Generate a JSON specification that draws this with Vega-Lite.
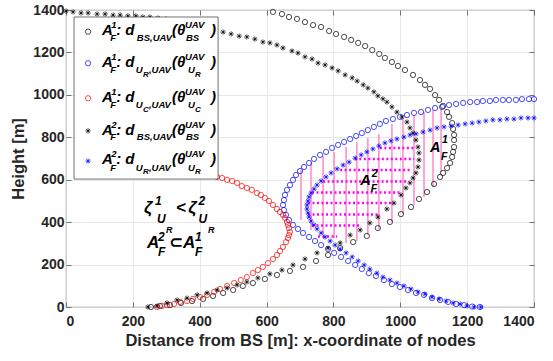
{
"$schema":"https://vega.github.io/schema/vega-lite/v6.json",
"width":468,"height":297,
"autosize":{"type":"none"},
"padding":{"left":66,"top":10,"right":19,"bottom":54},
"background":"white",
"config":{"view":{"stroke":"#555","strokeWidth":0.8},"font":"Liberation Sans"},
"datasets":{
"pink":[{"x":703,"y":410,"y2":646},{"x":733,"y":363,"y2":684},{"x":769,"y":339,"y2":712},{"x":802,"y":325,"y2":731},{"x":838,"y":302,"y2":754},{"x":870,"y":311,"y2":778},{"x":903,"y":339,"y2":797},{"x":936,"y":368,"y2":816},{"x":975,"y":401,"y2":863},{"x":1008,"y":438,"y2":891},{"x":1041,"y":481,"y2":905},{"x":1071,"y":519,"y2":919},{"x":1098,"y":566,"y2":929},{"x":1122,"y":636,"y2":938}],
"mag":[{"y":750,"x":939,"x2":1044},{"y":698,"x":864,"x2":1041},{"y":646,"x":820,"x2":1035},{"y":592,"x":769,"x2":1023},{"y":540,"x":736,"x2":999},{"y":490,"x":724,"x2":978},{"y":436,"x":724,"x2":939},{"y":384,"x":736,"x2":879},{"y":332,"x":754,"x2":811}],
"pts":[
{"s":"A1-BS","x":619,"y":1391},{"s":"A1-BS","x":646,"y":1381},{"s":"A1-BS","x":667,"y":1367},{"s":"A1-BS","x":691,"y":1358},{"s":"A1-BS","x":715,"y":1343},{"s":"A1-BS","x":739,"y":1329},{"s":"A1-BS","x":763,"y":1320},{"s":"A1-BS","x":787,"y":1301},{"s":"A1-BS","x":808,"y":1287},{"s":"A1-BS","x":832,"y":1273},{"s":"A1-BS","x":853,"y":1259},{"s":"A1-BS","x":874,"y":1245},{"s":"A1-BS","x":895,"y":1230},{"s":"A1-BS","x":916,"y":1211},{"s":"A1-BS","x":937,"y":1193},{"s":"A1-BS","x":954,"y":1174},{"s":"A1-BS","x":975,"y":1155},{"s":"A1-BS","x":993,"y":1136},{"s":"A1-BS","x":1014,"y":1117},{"s":"A1-BS","x":1038,"y":1094},{"s":"A1-BS","x":1059,"y":1070},{"s":"A1-BS","x":1074,"y":1047},{"s":"A1-BS","x":1089,"y":1028},{"s":"A1-BS","x":1104,"y":999},{"s":"A1-BS","x":1116,"y":976},{"s":"A1-BS","x":1128,"y":948},{"s":"A1-BS","x":1140,"y":919},{"s":"A1-BS","x":1146,"y":896},{"s":"A1-BS","x":1155,"y":867},{"s":"A1-BS","x":1158,"y":839},{"s":"A1-BS","x":1161,"y":811},{"s":"A1-BS","x":1161,"y":787},{"s":"A1-BS","x":1161,"y":754},{"s":"A1-BS","x":1158,"y":731},{"s":"A1-BS","x":1155,"y":707},{"s":"A1-BS","x":1149,"y":679},{"s":"A1-BS","x":1140,"y":655},{"s":"A1-BS","x":1128,"y":632},{"s":"A1-BS","x":1119,"y":613},{"s":"A1-BS","x":1101,"y":580},{"s":"A1-BS","x":1080,"y":542},{"s":"A1-BS","x":1056,"y":509},{"s":"A1-BS","x":1032,"y":471},{"s":"A1-BS","x":1002,"y":438},{"s":"A1-BS","x":969,"y":401},{"s":"A1-BS","x":933,"y":372},{"s":"A1-BS","x":900,"y":335},{"s":"A1-BS","x":859,"y":306},{"s":"A1-BS","x":820,"y":278},{"s":"A1-BS","x":784,"y":245},{"s":"A1-BS","x":748,"y":217},{"s":"A1-BS","x":709,"y":189},{"s":"A1-BS","x":670,"y":170},{"s":"A1-BS","x":631,"y":151},{"s":"A1-BS","x":595,"y":132},{"s":"A1-BS","x":559,"y":113},{"s":"A1-BS","x":529,"y":99},{"s":"A1-BS","x":500,"y":80},{"s":"A1-BS","x":470,"y":66},{"s":"A1-BS","x":440,"y":52},{"s":"A1-BS","x":410,"y":38},{"s":"A1-BS","x":377,"y":28},{"s":"A1-BS","x":344,"y":19},{"s":"A1-BS","x":311,"y":9},{"s":"A1-BS","x":281,"y":5},{"s":"A1-BS","x":254,"y":0},
{"s":"A1-UR","x":1400,"y":980},{"s":"A1-UR","x":1385,"y":980},{"s":"A1-UR","x":1364,"y":980},{"s":"A1-UR","x":1346,"y":976},{"s":"A1-UR","x":1325,"y":976},{"s":"A1-UR","x":1307,"y":976},{"s":"A1-UR","x":1286,"y":976},{"s":"A1-UR","x":1268,"y":971},{"s":"A1-UR","x":1247,"y":971},{"s":"A1-UR","x":1230,"y":966},{"s":"A1-UR","x":1209,"y":966},{"s":"A1-UR","x":1188,"y":962},{"s":"A1-UR","x":1167,"y":957},{"s":"A1-UR","x":1146,"y":952},{"s":"A1-UR","x":1125,"y":943},{"s":"A1-UR","x":1104,"y":938},{"s":"A1-UR","x":1083,"y":929},{"s":"A1-UR","x":1062,"y":919},{"s":"A1-UR","x":1041,"y":915},{"s":"A1-UR","x":1020,"y":905},{"s":"A1-UR","x":999,"y":896},{"s":"A1-UR","x":978,"y":886},{"s":"A1-UR","x":957,"y":877},{"s":"A1-UR","x":939,"y":863},{"s":"A1-UR","x":921,"y":849},{"s":"A1-UR","x":903,"y":834},{"s":"A1-UR","x":885,"y":820},{"s":"A1-UR","x":868,"y":806},{"s":"A1-UR","x":850,"y":792},{"s":"A1-UR","x":832,"y":778},{"s":"A1-UR","x":814,"y":764},{"s":"A1-UR","x":796,"y":750},{"s":"A1-UR","x":778,"y":731},{"s":"A1-UR","x":760,"y":717},{"s":"A1-UR","x":742,"y":698},{"s":"A1-UR","x":727,"y":679},{"s":"A1-UR","x":712,"y":660},{"s":"A1-UR","x":700,"y":641},{"s":"A1-UR","x":688,"y":622},{"s":"A1-UR","x":679,"y":599},{"s":"A1-UR","x":670,"y":575},{"s":"A1-UR","x":661,"y":552},{"s":"A1-UR","x":655,"y":528},{"s":"A1-UR","x":652,"y":504},{"s":"A1-UR","x":649,"y":481},{"s":"A1-UR","x":652,"y":457},{"s":"A1-UR","x":658,"y":434},{"s":"A1-UR","x":667,"y":410},{"s":"A1-UR","x":679,"y":387},{"s":"A1-UR","x":694,"y":368},{"s":"A1-UR","x":709,"y":349},{"s":"A1-UR","x":727,"y":330},{"s":"A1-UR","x":745,"y":311},{"s":"A1-UR","x":763,"y":292},{"s":"A1-UR","x":784,"y":273},{"s":"A1-UR","x":802,"y":255},{"s":"A1-UR","x":823,"y":236},{"s":"A1-UR","x":844,"y":217},{"s":"A1-UR","x":865,"y":198},{"s":"A1-UR","x":885,"y":179},{"s":"A1-UR","x":906,"y":160},{"s":"A1-UR","x":927,"y":146},{"s":"A1-UR","x":951,"y":127},{"s":"A1-UR","x":975,"y":108},{"s":"A1-UR","x":999,"y":94},{"s":"A1-UR","x":1023,"y":80},{"s":"A1-UR","x":1047,"y":66},{"s":"A1-UR","x":1071,"y":57},{"s":"A1-UR","x":1095,"y":42},{"s":"A1-UR","x":1119,"y":33},{"s":"A1-UR","x":1143,"y":24},{"s":"A1-UR","x":1167,"y":14},{"s":"A1-UR","x":1191,"y":9},{"s":"A1-UR","x":1215,"y":2},{"s":"A1-UR","x":1238,"y":0},
{"s":"A1-UC","x":452,"y":613},{"s":"A1-UC","x":467,"y":608},{"s":"A1-UC","x":482,"y":599},{"s":"A1-UC","x":497,"y":594},{"s":"A1-UC","x":512,"y":585},{"s":"A1-UC","x":526,"y":570},{"s":"A1-UC","x":541,"y":561},{"s":"A1-UC","x":556,"y":552},{"s":"A1-UC","x":571,"y":537},{"s":"A1-UC","x":583,"y":528},{"s":"A1-UC","x":595,"y":514},{"s":"A1-UC","x":607,"y":500},{"s":"A1-UC","x":619,"y":481},{"s":"A1-UC","x":631,"y":462},{"s":"A1-UC","x":640,"y":448},{"s":"A1-UC","x":649,"y":434},{"s":"A1-UC","x":655,"y":420},{"s":"A1-UC","x":661,"y":401},{"s":"A1-UC","x":664,"y":387},{"s":"A1-UC","x":667,"y":372},{"s":"A1-UC","x":670,"y":354},{"s":"A1-UC","x":667,"y":339},{"s":"A1-UC","x":664,"y":325},{"s":"A1-UC","x":658,"y":306},{"s":"A1-UC","x":649,"y":283},{"s":"A1-UC","x":640,"y":264},{"s":"A1-UC","x":631,"y":245},{"s":"A1-UC","x":619,"y":226},{"s":"A1-UC","x":604,"y":207},{"s":"A1-UC","x":589,"y":189},{"s":"A1-UC","x":574,"y":174},{"s":"A1-UC","x":559,"y":160},{"s":"A1-UC","x":541,"y":141},{"s":"A1-UC","x":523,"y":127},{"s":"A1-UC","x":503,"y":113},{"s":"A1-UC","x":482,"y":99},{"s":"A1-UC","x":461,"y":85},{"s":"A1-UC","x":443,"y":71},{"s":"A1-UC","x":422,"y":57},{"s":"A1-UC","x":401,"y":47},{"s":"A1-UC","x":380,"y":38},{"s":"A1-UC","x":362,"y":28},{"s":"A1-UC","x":341,"y":24},{"s":"A1-UC","x":323,"y":14},{"s":"A1-UC","x":302,"y":9},{"s":"A1-UC","x":287,"y":5},{"s":"A1-UC","x":272,"y":0},
{"s":"A2-BS","x":0,"y":1395},{"s":"A2-BS","x":21,"y":1391},{"s":"A2-BS","x":45,"y":1386},{"s":"A2-BS","x":66,"y":1386},{"s":"A2-BS","x":93,"y":1381},{"s":"A2-BS","x":117,"y":1381},{"s":"A2-BS","x":141,"y":1376},{"s":"A2-BS","x":162,"y":1376},{"s":"A2-BS","x":185,"y":1372},{"s":"A2-BS","x":209,"y":1372},{"s":"A2-BS","x":230,"y":1367},{"s":"A2-BS","x":251,"y":1367},{"s":"A2-BS","x":275,"y":1362},{"s":"A2-BS","x":299,"y":1358},{"s":"A2-BS","x":323,"y":1348},{"s":"A2-BS","x":347,"y":1339},{"s":"A2-BS","x":371,"y":1329},{"s":"A2-BS","x":395,"y":1320},{"s":"A2-BS","x":419,"y":1315},{"s":"A2-BS","x":443,"y":1306},{"s":"A2-BS","x":470,"y":1296},{"s":"A2-BS","x":494,"y":1287},{"s":"A2-BS","x":518,"y":1277},{"s":"A2-BS","x":541,"y":1273},{"s":"A2-BS","x":565,"y":1263},{"s":"A2-BS","x":589,"y":1249},{"s":"A2-BS","x":610,"y":1245},{"s":"A2-BS","x":631,"y":1235},{"s":"A2-BS","x":649,"y":1221},{"s":"A2-BS","x":676,"y":1207},{"s":"A2-BS","x":694,"y":1197},{"s":"A2-BS","x":715,"y":1179},{"s":"A2-BS","x":736,"y":1169},{"s":"A2-BS","x":754,"y":1150},{"s":"A2-BS","x":775,"y":1141},{"s":"A2-BS","x":796,"y":1127},{"s":"A2-BS","x":814,"y":1113},{"s":"A2-BS","x":835,"y":1094},{"s":"A2-BS","x":856,"y":1080},{"s":"A2-BS","x":871,"y":1065},{"s":"A2-BS","x":889,"y":1047},{"s":"A2-BS","x":903,"y":1032},{"s":"A2-BS","x":921,"y":1014},{"s":"A2-BS","x":933,"y":995},{"s":"A2-BS","x":948,"y":981},{"s":"A2-BS","x":960,"y":966},{"s":"A2-BS","x":975,"y":943},{"s":"A2-BS","x":990,"y":919},{"s":"A2-BS","x":1005,"y":896},{"s":"A2-BS","x":1020,"y":872},{"s":"A2-BS","x":1029,"y":844},{"s":"A2-BS","x":1038,"y":820},{"s":"A2-BS","x":1047,"y":787},{"s":"A2-BS","x":1053,"y":754},{"s":"A2-BS","x":1056,"y":726},{"s":"A2-BS","x":1056,"y":693},{"s":"A2-BS","x":1053,"y":660},{"s":"A2-BS","x":1047,"y":632},{"s":"A2-BS","x":1038,"y":608},{"s":"A2-BS","x":1029,"y":585},{"s":"A2-BS","x":1017,"y":561},{"s":"A2-BS","x":1002,"y":528},{"s":"A2-BS","x":981,"y":490},{"s":"A2-BS","x":960,"y":462},{"s":"A2-BS","x":933,"y":424},{"s":"A2-BS","x":909,"y":396},{"s":"A2-BS","x":880,"y":363},{"s":"A2-BS","x":850,"y":339},{"s":"A2-BS","x":820,"y":302},{"s":"A2-BS","x":784,"y":278},{"s":"A2-BS","x":751,"y":255},{"s":"A2-BS","x":715,"y":226},{"s":"A2-BS","x":679,"y":198},{"s":"A2-BS","x":646,"y":174},{"s":"A2-BS","x":610,"y":156},{"s":"A2-BS","x":574,"y":137},{"s":"A2-BS","x":541,"y":118},{"s":"A2-BS","x":512,"y":104},{"s":"A2-BS","x":482,"y":90},{"s":"A2-BS","x":452,"y":80},{"s":"A2-BS","x":422,"y":66},{"s":"A2-BS","x":392,"y":57},{"s":"A2-BS","x":362,"y":42},{"s":"A2-BS","x":332,"y":33},{"s":"A2-BS","x":302,"y":19},{"s":"A2-BS","x":272,"y":5},{"s":"A2-BS","x":245,"y":0},
{"s":"A2-UR","x":1400,"y":891},{"s":"A2-UR","x":1382,"y":891},{"s":"A2-UR","x":1361,"y":891},{"s":"A2-UR","x":1340,"y":886},{"s":"A2-UR","x":1319,"y":886},{"s":"A2-UR","x":1298,"y":882},{"s":"A2-UR","x":1277,"y":882},{"s":"A2-UR","x":1256,"y":877},{"s":"A2-UR","x":1235,"y":872},{"s":"A2-UR","x":1215,"y":867},{"s":"A2-UR","x":1194,"y":863},{"s":"A2-UR","x":1173,"y":858},{"s":"A2-UR","x":1152,"y":853},{"s":"A2-UR","x":1131,"y":849},{"s":"A2-UR","x":1110,"y":844},{"s":"A2-UR","x":1089,"y":834},{"s":"A2-UR","x":1068,"y":825},{"s":"A2-UR","x":1047,"y":816},{"s":"A2-UR","x":1029,"y":811},{"s":"A2-UR","x":1011,"y":801},{"s":"A2-UR","x":990,"y":792},{"s":"A2-UR","x":972,"y":783},{"s":"A2-UR","x":954,"y":773},{"s":"A2-UR","x":936,"y":759},{"s":"A2-UR","x":918,"y":745},{"s":"A2-UR","x":900,"y":731},{"s":"A2-UR","x":883,"y":717},{"s":"A2-UR","x":865,"y":702},{"s":"A2-UR","x":847,"y":683},{"s":"A2-UR","x":829,"y":669},{"s":"A2-UR","x":811,"y":651},{"s":"A2-UR","x":793,"y":632},{"s":"A2-UR","x":778,"y":613},{"s":"A2-UR","x":763,"y":594},{"s":"A2-UR","x":751,"y":575},{"s":"A2-UR","x":742,"y":556},{"s":"A2-UR","x":733,"y":537},{"s":"A2-UR","x":727,"y":519},{"s":"A2-UR","x":724,"y":500},{"s":"A2-UR","x":721,"y":481},{"s":"A2-UR","x":721,"y":462},{"s":"A2-UR","x":724,"y":443},{"s":"A2-UR","x":727,"y":424},{"s":"A2-UR","x":733,"y":405},{"s":"A2-UR","x":742,"y":387},{"s":"A2-UR","x":751,"y":368},{"s":"A2-UR","x":763,"y":349},{"s":"A2-UR","x":775,"y":330},{"s":"A2-UR","x":790,"y":311},{"s":"A2-UR","x":805,"y":292},{"s":"A2-UR","x":820,"y":273},{"s":"A2-UR","x":838,"y":255},{"s":"A2-UR","x":856,"y":236},{"s":"A2-UR","x":874,"y":217},{"s":"A2-UR","x":892,"y":198},{"s":"A2-UR","x":909,"y":179},{"s":"A2-UR","x":930,"y":160},{"s":"A2-UR","x":948,"y":141},{"s":"A2-UR","x":969,"y":127},{"s":"A2-UR","x":990,"y":113},{"s":"A2-UR","x":1011,"y":99},{"s":"A2-UR","x":1032,"y":85},{"s":"A2-UR","x":1053,"y":71},{"s":"A2-UR","x":1074,"y":61},{"s":"A2-UR","x":1095,"y":47},{"s":"A2-UR","x":1116,"y":38},{"s":"A2-UR","x":1137,"y":28},{"s":"A2-UR","x":1158,"y":19},{"s":"A2-UR","x":1179,"y":14},{"s":"A2-UR","x":1200,"y":5},{"s":"A2-UR","x":1221,"y":0},{"s":"A2-UR","x":1241,"y":0}
],
"legbox":[{"x":24,"x2":455,"y":603,"y2":1367}],
"legsym":[{"s":"A1-BS","x":66,"y":1298},{"s":"A1-UR","x":66,"y":1149},{"s":"A1-UC","x":66,"y":984},{"s":"A2-BS","x":66,"y":830},{"s":"A2-UR","x":66,"y":688}],
"txt":[
{"t":"A","x":108,"y":1282,"k":"lm"},{"t":"1","x":135,"y":1315,"k":"ls"},{"t":"F","x":132,"y":1254,"k":"ls"},{"t":": d","x":150,"y":1282,"k":"lm"},{"t":"BS,UAV","x":212,"y":1254,"k":"ls"},{"t":"(θ","x":317,"y":1282,"k":"lm"},{"t":"UAV","x":356,"y":1315,"k":"ls"},{"t":"BS","x":359,"y":1254,"k":"ls"},{"t":")","x":434,"y":1282,"k":"lm"},
{"t":"A","x":108,"y":1131,"k":"lm"},{"t":"1","x":135,"y":1164,"k":"ls"},{"t":"F","x":132,"y":1103,"k":"ls"},{"t":": d","x":150,"y":1131,"k":"lm"},{"t":"U","x":209,"y":1103,"k":"ls"},{"t":"R","x":230,"y":1084,"k":"lss"},{"t":",UAV","x":248,"y":1103,"k":"ls"},{"t":"(θ","x":317,"y":1131,"k":"lm"},{"t":"UAV","x":356,"y":1164,"k":"ls"},{"t":"U","x":365,"y":1103,"k":"ls"},{"t":"R","x":386,"y":1084,"k":"lss"},{"t":")","x":434,"y":1131,"k":"lm"},
{"t":"A","x":108,"y":966,"k":"lm"},{"t":"1","x":135,"y":999,"k":"ls"},{"t":"F","x":132,"y":938,"k":"ls"},{"t":": d","x":150,"y":966,"k":"lm"},{"t":"U","x":209,"y":938,"k":"ls"},{"t":"C","x":230,"y":919,"k":"lss"},{"t":",UAV","x":248,"y":938,"k":"ls"},{"t":"(θ","x":317,"y":966,"k":"lm"},{"t":"UAV","x":356,"y":999,"k":"ls"},{"t":"U","x":365,"y":938,"k":"ls"},{"t":"C","x":386,"y":919,"k":"lss"},{"t":")","x":434,"y":966,"k":"lm"},
{"t":"A","x":108,"y":813,"k":"lm"},{"t":"2","x":135,"y":846,"k":"ls"},{"t":"F","x":132,"y":785,"k":"ls"},{"t":": d","x":150,"y":813,"k":"lm"},{"t":"BS,UAV","x":212,"y":785,"k":"ls"},{"t":"(θ","x":317,"y":813,"k":"lm"},{"t":"UAV","x":356,"y":846,"k":"ls"},{"t":"BS","x":359,"y":785,"k":"ls"},{"t":")","x":434,"y":813,"k":"lm"},
{"t":"A","x":108,"y":672,"k":"lm"},{"t":"2","x":135,"y":705,"k":"ls"},{"t":"F","x":132,"y":643,"k":"ls"},{"t":": d","x":150,"y":672,"k":"lm"},{"t":"U","x":209,"y":643,"k":"ls"},{"t":"R","x":230,"y":625,"k":"lss"},{"t":",UAV","x":248,"y":643,"k":"ls"},{"t":"(θ","x":317,"y":672,"k":"lm"},{"t":"UAV","x":356,"y":705,"k":"ls"},{"t":"U","x":365,"y":643,"k":"ls"},{"t":"R","x":386,"y":625,"k":"lss"},{"t":")","x":434,"y":672,"k":"lm"},
{"t":"ζ","x":233,"y":443,"k":"am"},{"t":"1","x":266,"y":481,"k":"as"},{"t":"U","x":272,"y":396,"k":"as"},{"t":"R","x":299,"y":349,"k":"ass"},{"t":"<","x":329,"y":443,"k":"am"},{"t":"ζ","x":366,"y":443,"k":"am"},{"t":"2","x":396,"y":481,"k":"as"},{"t":"U","x":396,"y":396,"k":"as"},{"t":"R","x":425,"y":349,"k":"ass"},
{"t":"A","x":242,"y":278,"k":"am"},{"t":"2","x":275,"y":311,"k":"as"},{"t":"F","x":275,"y":240,"k":"as"},{"t":"⊂","x":308,"y":278,"k":"am"},{"t":"A","x":350,"y":278,"k":"am"},{"t":"1","x":386,"y":311,"k":"as"},{"t":"F","x":386,"y":240,"k":"as"},
{"t":"A","x":880,"y":575,"k":"rm"},{"t":"2","x":915,"y":613,"k":"rs"},{"t":"F","x":912,"y":542,"k":"rs"},{"t":"A","x":1089,"y":731,"k":"rm"},{"t":"1","x":1125,"y":773,"k":"rs"},{"t":"F","x":1122,"y":693,"k":"rs"}
]
},
"encoding":{
"x":{"field":"x","type":"quantitative","scale":{"domain":[0,1400],"nice":false},"axis":null},
"y":{"field":"y","type":"quantitative","scale":{"domain":[0,1400],"nice":false},"axis":null}
},
"layer":[
{"data":{"name":"pink"},"mark":{"type":"rule","color":"#ff88c8","strokeWidth":1.5},
"encoding":{
"x":{"field":"x","type":"quantitative","scale":{"domain":[0,1400],"nice":false},"axis":{"values":[0,200,400,600,800,1000,1200,1400],"format":"d","title":"Distance from BS [m]: x-coordinate of nodes","grid":true,"gridColor":"#e2e2e2","gridWidth":0.8,"domain":false,"tickSize":-5,"tickColor":"#555","tickWidth":0.8,"labelFont":"Liberation Sans","labelFontSize":14,"labelFontWeight":"bold","labelColor":"#262626","labelPadding":12,"titleFont":"Liberation Sans","titleFontSize":16.5,"titleFontWeight":"bold","titleColor":"#262626","titlePadding":4}},
"y":{"field":"y","type":"quantitative","scale":{"domain":[0,1400],"nice":false},"axis":{"values":[0,200,400,600,800,1000,1200,1400],"format":"d","title":"Height [m]","grid":true,"gridColor":"#e2e2e2","gridWidth":0.8,"domain":false,"tickSize":-5,"tickColor":"#555","tickWidth":0.8,"labelFont":"Liberation Sans","labelFontSize":14,"labelFontWeight":"bold","labelColor":"#262626","labelPadding":7,"titleFont":"Liberation Sans","titleFontSize":16.5,"titleFontWeight":"bold","titleColor":"#262626","titlePadding":6}},
"y2":{"field":"y2"}}},
{"data":{"name":"mag"},"mark":{"type":"rule","color":"#ff00ff","strokeWidth":2.5,"strokeDash":[2,2.5]},"encoding":{"x2":{"field":"x2"}}},
{"data":{"name":"pts"},"mark":{"type":"point","filled":false,"strokeWidth":0.7,"opacity":1},
"encoding":{
"color":{"field":"s","type":"nominal","scale":{"domain":["A1-BS","A1-UR","A1-UC","A2-BS","A2-UR"],"range":["#000000","#0000ff","#ff0000","#000000","#0000ff"]},"legend":null},
"shape":{"field":"s","type":"nominal","scale":{"domain":["A1-BS","A1-UR","A1-UC","A2-BS","A2-UR"],"range":["circle","circle","circle","M-1,0L1,0M0,-1L0,1M-0.7,-0.7L0.7,0.7M-0.7,0.7L0.7,-0.7","M-1,0L1,0M0,-1L0,1M-0.7,-0.7L0.7,0.7M-0.7,0.7L0.7,-0.7"]},"legend":null},
"size":{"field":"s","type":"nominal","scale":{"domain":["A1-BS","A1-UR","A1-UC","A2-BS","A2-UR"],"range":[28,28,28,60,60]},"legend":null}}},
{"data":{"name":"legbox"},"mark":{"type":"rect","fill":"white","stroke":"#333","strokeWidth":0.7},
"encoding":{"x2":{"field":"x2"},"y2":{"field":"y2"},
"x":{"field":"x","type":"quantitative","scale":{"domain":[0,1400],"nice":false},"axis":{"orient":"top","values":[0,200,400,600,800,1000,1200,1400],"labels":false,"title":null,"grid":false,"domain":false,"tickSize":-5,"tickColor":"#555","tickWidth":0.8}},
"y":{"field":"y","type":"quantitative","scale":{"domain":[0,1400],"nice":false},"axis":{"orient":"right","values":[0,200,400,600,800,1000,1200,1400],"labels":false,"title":null,"grid":false,"domain":false,"tickSize":-5,"tickColor":"#555","tickWidth":0.8}}}},
{"data":{"name":"legsym"},"mark":{"type":"point","filled":false,"strokeWidth":0.7,"opacity":1},
"encoding":{
"color":{"field":"s","type":"nominal","legend":null},
"shape":{"field":"s","type":"nominal","legend":null},
"size":{"field":"s","type":"nominal","legend":null}}},
{"data":{"name":"txt"},"transform":[{"filter":"datum.k==='lm'"}],"mark":{"type":"text","font":"Liberation Sans, DejaVu Sans","fontStyle":"italic","fontWeight":"bold","fontSize":15,"align":"left","baseline":"alphabetic","color":"#000"},"encoding":{"text":{"field":"t"}}},
{"data":{"name":"txt"},"transform":[{"filter":"datum.k==='ls'"}],"mark":{"type":"text","font":"Liberation Sans, DejaVu Sans","fontStyle":"italic","fontWeight":"bold","fontSize":9.5,"align":"left","baseline":"alphabetic","color":"#000"},"encoding":{"text":{"field":"t"}}},
{"data":{"name":"txt"},"transform":[{"filter":"datum.k==='lss'"}],"mark":{"type":"text","font":"Liberation Sans, DejaVu Sans","fontStyle":"italic","fontWeight":"bold","fontSize":8,"align":"left","baseline":"alphabetic","color":"#000"},"encoding":{"text":{"field":"t"}}},
{"data":{"name":"txt"},"transform":[{"filter":"datum.k==='am'"}],"mark":{"type":"text","font":"Liberation Sans, DejaVu Sans","fontStyle":"italic","fontWeight":"bold","fontSize":17,"align":"left","baseline":"alphabetic","color":"#000"},"encoding":{"text":{"field":"t"}}},
{"data":{"name":"txt"},"transform":[{"filter":"datum.k==='as'"}],"mark":{"type":"text","font":"Liberation Sans, DejaVu Sans","fontStyle":"italic","fontWeight":"bold","fontSize":12,"align":"left","baseline":"alphabetic","color":"#000"},"encoding":{"text":{"field":"t"}}},
{"data":{"name":"txt"},"transform":[{"filter":"datum.k==='ass'"}],"mark":{"type":"text","font":"Liberation Sans, DejaVu Sans","fontStyle":"italic","fontWeight":"bold","fontSize":9,"align":"left","baseline":"alphabetic","color":"#000"},"encoding":{"text":{"field":"t"}}},
{"data":{"name":"txt"},"transform":[{"filter":"datum.k==='rm'"}],"mark":{"type":"text","font":"Liberation Sans, DejaVu Sans","fontStyle":"italic","fontWeight":"bold","fontSize":14.5,"align":"left","baseline":"alphabetic","color":"#000"},"encoding":{"text":{"field":"t"}}},
{"data":{"name":"txt"},"transform":[{"filter":"datum.k==='rs'"}],"mark":{"type":"text","font":"Liberation Sans, DejaVu Sans","fontStyle":"italic","fontWeight":"bold","fontSize":10.5,"align":"left","baseline":"alphabetic","color":"#000"},"encoding":{"text":{"field":"t"}}}
],
"resolve":{"axis":{"x":"independent","y":"independent"}}
}
